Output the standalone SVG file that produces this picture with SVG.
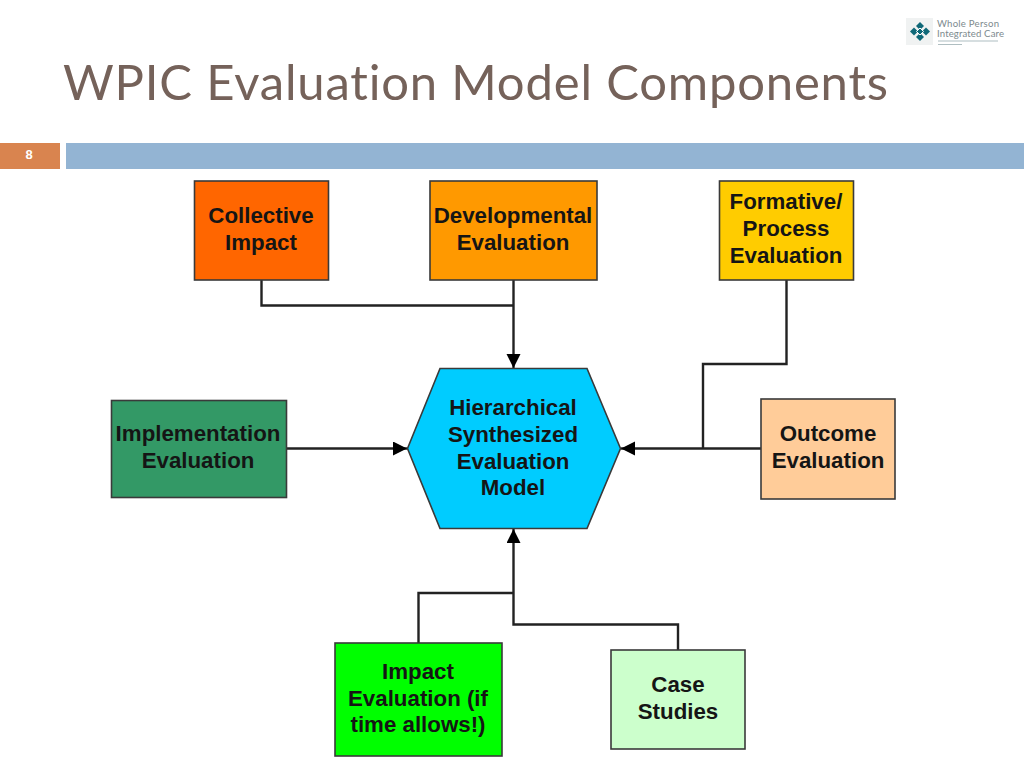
<svg xmlns="http://www.w3.org/2000/svg" width="1024" height="768" viewBox="0 0 1024 768">
<style>
text{font-family:"Liberation Sans",Arial,sans-serif}
.n{stroke:#3a3a3a;stroke-width:1.6}
.l{font-size:22.300px;font-weight:700;fill:#151515;text-anchor:middle}
.c{fill:none;stroke:#222;stroke-width:2.400}
.t{font-size:9.600px;fill:#7d8a8e}
</style>
<defs><marker id="a" markerUnits="userSpaceOnUse" markerWidth="16" markerHeight="16" refX="14" refY="7" orient="auto"><path d="M0 0L14 7L0 14Z" fill="#000"/></marker></defs>
<rect width="1024" height="768" fill="#fff"/>
<text x="63" y="100" font-size="49" fill="#75625a" textLength="825" lengthAdjust="spacing" style="font-family:Lato,'Noto Sans',sans-serif;font-variant-ligatures:none">WPIC Evaluation Model Components</text>
<rect x="0" y="143" width="60" height="26" fill="#d9844f"/>
<text x="29" y="159" font-size="13" font-weight="700" fill="#fff" text-anchor="middle">8</text>
<rect x="66" y="143" width="958" height="26" fill="#93b4d3"/>
<g id="logo">
<rect x="906" y="18" width="27" height="27" fill="#f0f2f2"/>
<path d="M920 22l4 4l-4 4l-4-4ZM920 33l4 4l-4 4l-4-4ZM914 27.500l4 4l-4 4l-4-4ZM926 27.500l4 4l-4 4l-4-4Z" fill="#0f6878"/>
<path d="M920 28l3.500 3.500l-3.500 3.500l-3.500-3.500Z" fill="#0f6878" stroke="#fff" stroke-width="1"/>
<text class="t" x="937" y="26.500" textLength="62" style="font-family:Lato,sans-serif">Whole Person</text>
<text class="t" x="937" y="37" textLength="67" style="font-family:Lato,sans-serif;font-variant-ligatures:none">Integrated Care</text>
<path d="M938 41h60M938 44.500h24" stroke="#8ea3a8" stroke-width="1.200" opacity=".7"/>
</g>
<g id="connectors">
<path class="c" d="M261.500 280V305.500H513.500"/>
<path class="c" d="M513.500 280V368" marker-end="url(#a)"/>
<path class="c" d="M786.500 280V364H703V448.500"/>
<path class="c" d="M761 448.500H621" marker-end="url(#a)"/>
<path class="c" d="M287 448.500H407" marker-end="url(#a)"/>
<path class="c" d="M418.500 643V593H513.500"/>
<path class="c" d="M678 650V624.500H513.500V529" marker-end="url(#a)"/>
</g>
<g id="collective"><rect class="n" x="194.500" y="181" width="134" height="99" fill="#ff6600"/><text class="l" x="261" y="223">Collective</text><text class="l" x="261" y="250">Impact</text></g>
<g id="developmental"><rect class="n" x="430" y="181" width="167" height="99" fill="#ff9900"/><text class="l" x="513" y="223">Developmental</text><text class="l" x="513" y="250">Evaluation</text></g>
<g id="formative"><rect class="n" x="719.500" y="181" width="134" height="99" fill="#ffcc00"/><text class="l" x="786" y="209">Formative/</text><text class="l" x="786" y="236">Process</text><text class="l" x="786" y="263">Evaluation</text></g>
<g id="implementation"><rect class="n" x="111.500" y="400.500" width="175" height="97" fill="#339966"/><text class="l" x="198" y="441">Implementation</text><text class="l" x="198" y="468">Evaluation</text></g>
<g id="hierarchical"><path class="n" d="M440 368.500H587L620.500 448.500L587 528.500H440L407.500 448.500Z" fill="#00ccff"/><text class="l" x="513" y="415">Hierarchical</text><text class="l" x="513" y="442">Synthesized</text><text class="l" x="513" y="469">Evaluation</text><text class="l" x="513" y="495">Model</text></g>
<g id="outcome"><rect class="n" x="761" y="399" width="134" height="100" fill="#ffcc99"/><text class="l" x="828" y="441">Outcome</text><text class="l" x="828" y="468">Evaluation</text></g>
<g id="impact"><rect class="n" x="335" y="643" width="167" height="113" fill="#00ff00"/><text class="l" x="418" y="679">Impact</text><text class="l" x="418" y="706">Evaluation (if</text><text class="l" x="418" y="732">time allows!)</text></g>
<g id="case"><rect class="n" x="611" y="650" width="134" height="99" fill="#ccffcc"/><text class="l" x="678" y="692">Case</text><text class="l" x="678" y="719">Studies</text></g>
</svg>
